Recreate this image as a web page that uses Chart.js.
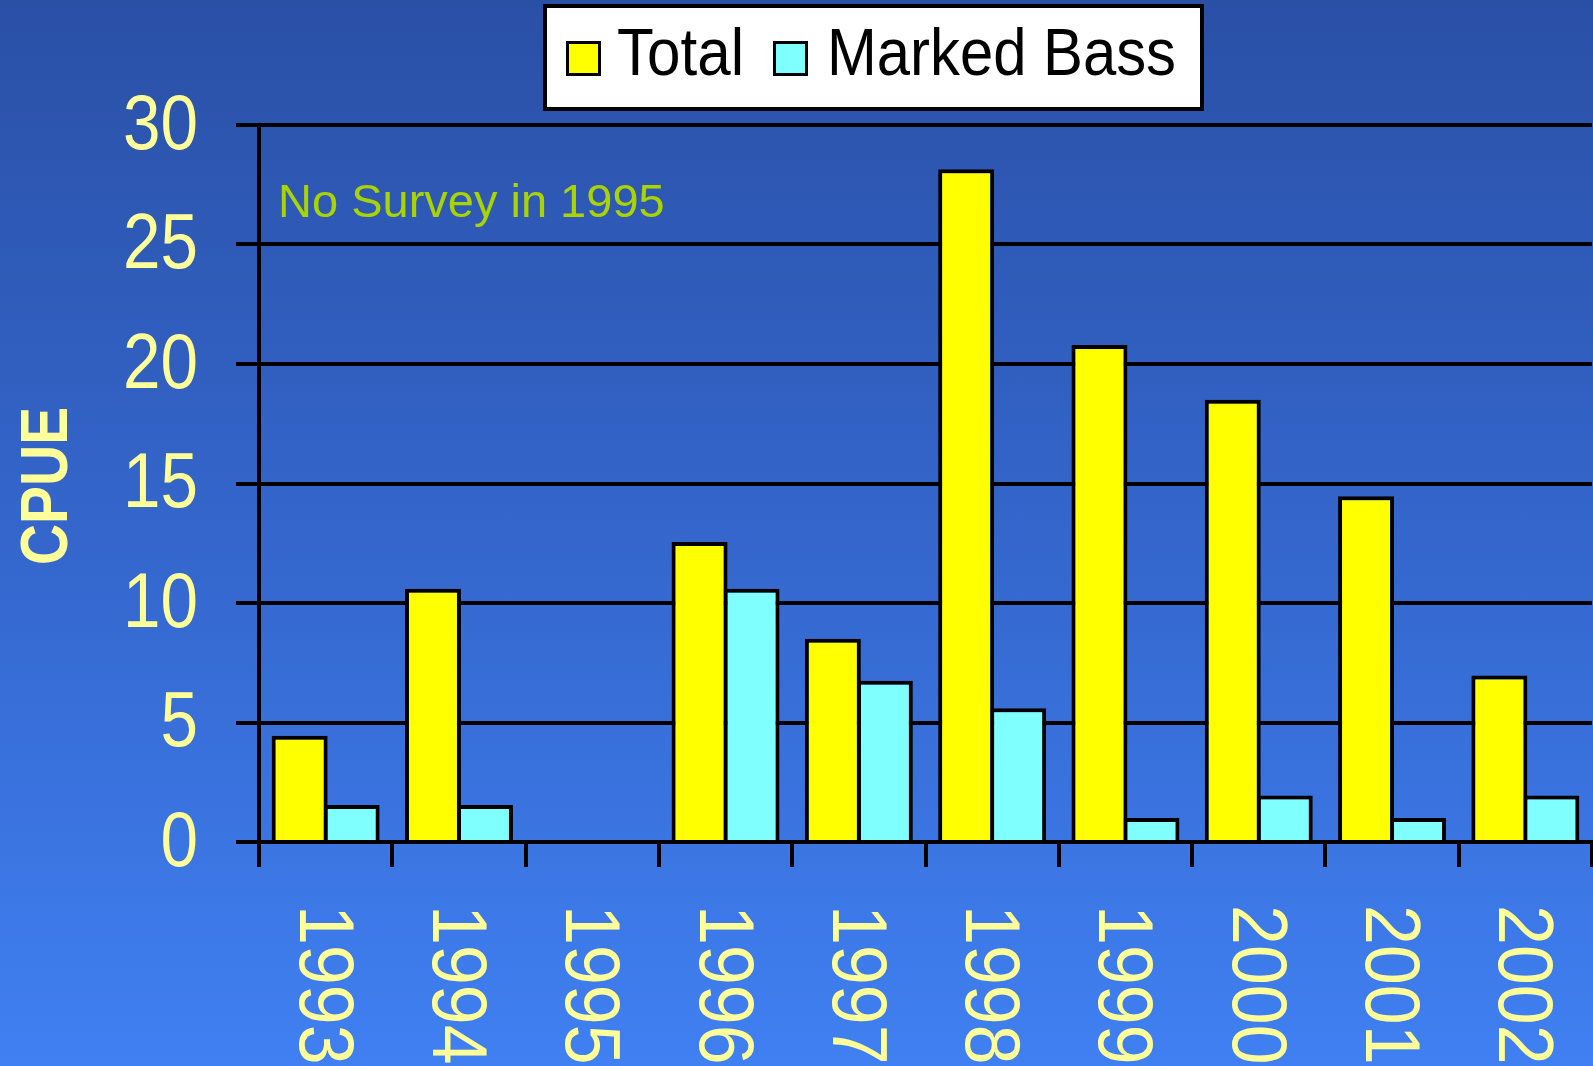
<!DOCTYPE html>
<html lang="en">
<head>
    <meta charset="UTF-8">
    <title>CPUE - Total and Marked Bass</title>
    <script src="https://cdn.jsdelivr.net/npm/chart.js"></script>
    <style>
        html, body { margin: 0; padding: 0; }
        body {
            width: 1593px;
            height: 1066px;
            overflow: hidden;
            background: linear-gradient(to bottom, #2A50A6 0%, #3466CC 50%, #4080F2 100%);
        }
        canvas { display: block; }
    </style>
</head>
<body>
<canvas id="cpueChart" width="1593" height="1066"></canvas>
<script>
    // Data
    const years = ['1993', '1994', '1995', '1996', '1997', '1998', '1999', '2000', '2001', '2002'];
    const totalCpue = [4.45, 10.6, null, 12.55, 8.5, 28.15, 20.8, 18.5, 14.47, 6.97];
    const markedCpue = [1.55, 1.55, null, 10.6, 6.75, 5.6, 1.0, 1.95, 1.0, 1.95];
    const yTicks = [0, 5, 10, 15, 20, 25, 30];
    const seriesNames = ['Total', 'Marked Bass'];
    const note = 'No Survey in 1995';
    const axisTitle = 'CPUE';

    const FONT = '"Liberation Sans", Arial, Helvetica, sans-serif';
    const LABEL_COLOR = '#FFFF99';

    // draw text with a horizontal squeeze (the slide used a condensed face)
    function squeezedText(ctx, text, x, y, opts) {
        ctx.save();
        ctx.translate(x, y);
        if (opts.rotate) ctx.rotate(opts.rotate);
        ctx.scale(opts.sx || 1, 1);
        ctx.font = opts.font;
        ctx.fillStyle = opts.color;
        ctx.textAlign = opts.align || 'left';
        ctx.textBaseline = 'alphabetic';
        ctx.fillText(text, 0, 0);
        ctx.restore();
    }

    // fit text to a given ink width
    function fittedText(ctx, text, x, y, font, color, width) {
        ctx.save();
        ctx.font = font;
        const w = ctx.measureText(text).width;
        ctx.restore();
        squeezedText(ctx, text, x, y, { font: font, color: color, sx: width / w });
    }

    const slideText = {
        id: 'slideText',
        afterDraw(chart) {
            const ctx = chart.ctx;
            const xScale = chart.scales.x;
            const yScale = chart.scales.y;

            // y tick labels
            yTicks.forEach(v => {
                const y = yScale.getPixelForValue(v);
                squeezedText(ctx, String(v), 198, y + 23.5, {
                    font: '77px ' + FONT, color: LABEL_COLOR, sx: 0.876, align: 'right'
                });
            });

            // x labels, rotated clockwise (read top to bottom)
            chart.data.labels.forEach((lab, i) => {
                const cx = xScale.getPixelForValue(i);
                squeezedText(ctx, lab, cx - 26, 905, {
                    font: '78px ' + FONT, color: LABEL_COLOR, sx: 0.92, rotate: Math.PI / 2
                });
            });

            // axis title
            squeezedText(ctx, axisTitle, 67, 486, {
                font: 'bold 67px ' + FONT, color: LABEL_COLOR, sx: 0.85,
                rotate: -Math.PI / 2, align: 'center'
            });

            // note inside plot
            squeezedText(ctx, note, 278, 217, {
                font: '47px ' + FONT, color: '#AAD400'
            });

            // legend box
            ctx.save();
            ctx.fillStyle = '#FFFFFF';
            ctx.fillRect(545, 6, 657, 103);
            ctx.strokeStyle = '#000000';
            ctx.lineWidth = 4;
            ctx.strokeRect(545, 6, 657, 103);
            const swatchX = [567.5, 774.5];
            const textX = [617, 827];
            const textW = [127, 349];
            chart.data.datasets.forEach((ds, i) => {
                ctx.fillStyle = ds.backgroundColor;
                ctx.fillRect(swatchX[i], 42.5, 32, 32);
                ctx.lineWidth = 3;
                ctx.strokeStyle = '#000000';
                ctx.strokeRect(swatchX[i], 42.5, 32, 32);
                fittedText(ctx, ds.label, textX[i], 75, '66px ' + FONT, '#000000', textW[i]);
            });
            ctx.restore();
        }
    };

    const ctx = document.getElementById('cpueChart').getContext('2d');
    new Chart(ctx, {
        type: 'bar',
        data: {
            labels: years,
            datasets: [{
                label: seriesNames[0],
                data: totalCpue,
                backgroundColor: '#FFFF00',
                borderColor: '#000000',
                borderWidth: 4,
                borderSkipped: 'start'
            }, {
                label: seriesNames[1],
                data: markedCpue,
                backgroundColor: '#80FFFF',
                borderColor: '#000000',
                borderWidth: 4,
                borderSkipped: 'start'
            }]
        },
        options: {
            responsive: false,
            animation: false,
            devicePixelRatio: 1,
            // bars a bit wider than their slot so neighbours share one border
            categoryPercentage: 0.78,
            barPercentage: 1.077,
            layout: { padding: { top: 125, left: 0, right: 1, bottom: 0 } },
            plugins: {
                legend: { display: false },
                tooltip: { enabled: false }
            },
            scales: {
                x: {
                    type: 'category',
                    offset: true,
                    ticks: { display: false },
                    grid: {
                        offset: true,
                        drawOnChartArea: false,
                        drawTicks: true,
                        tickLength: 25,
                        color: '#000000',
                        lineWidth: 4
                    },
                    border: { display: true, color: '#000000', width: 4 },
                    afterFit: s => { s.height = 224; }
                },
                y: {
                    min: 0,
                    max: 30,
                    ticks: { display: false, stepSize: 5 },
                    grid: {
                        color: '#000000',
                        lineWidth: 4,
                        drawTicks: true,
                        tickLength: 23
                    },
                    border: { display: true, color: '#000000', width: 4 },
                    afterFit: s => { s.width = 259; }
                }
            }
        },
        plugins: [slideText]
    });
</script>
</body>
</html>
